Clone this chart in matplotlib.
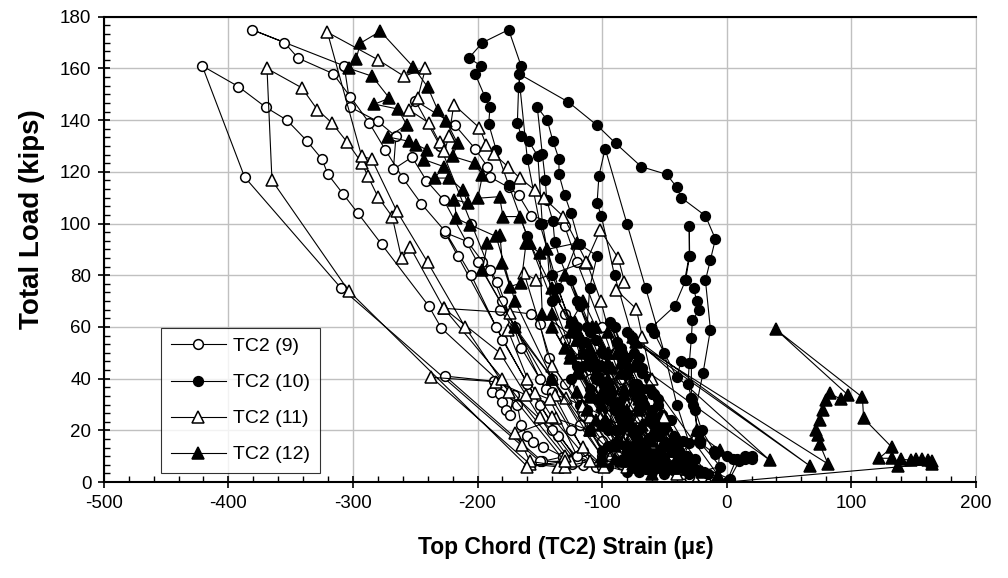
import matplotlib.pyplot as plt
from matplotlib.ticker import MultipleLocator

plt.rcParams['font.family'] = ['Liberation Sans', 'DejaVu Sans']
plt.rcParams['axes.unicode_minus'] = False

# strain (microstrain), total load (kips), in test order
tc2_9 = [
    (-30, 2), (-45, 8), (-60, 15), (-72, 22), (-85, 30), (-95, 38), (-80, 26), (-65, 15), (-50, 6),
    (-65, 8), (-80, 18), (-95, 28), (-108, 38), (-118, 48), (-130, 55), (-110, 40), (-95, 26), (-80, 12), (-70, 5),
    (-85, 7), (-100, 16), (-115, 26), (-130, 38), (-143, 48), (-150, 61), (-157, 65), (-182, 66.6),
    (-140, 40), (-118, 22), (-100, 10),
    (-105, 6), (-125, 20), (-145, 36), (-165, 52), (-184, 77.5), (-190, 82), (-196, 85.3), (-208, 93),
    (-226, 96.5), (-216, 87.6), (-185, 60), (-160, 38), (-135, 18), (-115, 6.6),
    (-124, 7), (-131, 9.8), (-148, 8), (-226, 41), (-187, 39), (-185, 37), (-188, 35), (-182, 34),
    (-180, 31), (-177, 28), (-174, 26), (-171, 33.7), (-168, 30), (-165, 22), (-160, 18),
    (-155.5, 15.6), (-147.5, 13.7), (-131, 9.8), (-123, 9.2),
    (-140, 20), (-229, 59.5), (-239, 68), (-277, 92), (-296, 104), (-308, 111.5), (-320, 119),
    (-325, 125), (-337, 132), (-353, 140), (-370, 145), (-392, 153), (-421, 161), (-387, 118),
    (-309.5, 75), (-150, 8),
    (-120, 8), (-150, 30), (-180, 55), (-205, 80), (-226, 97), (-245, 107.6), (-260, 117.6),
    (-274, 128.5), (-287, 139), (-302, 149), (-316, 158), (-344, 164), (-355, 170), (-381, 175),
    (-307, 161), (-302, 145), (-280, 139.5), (-265.5, 133.7), (-267.5, 121), (-252.6, 125.7),
    (-241, 116.6), (-227, 109), (-200, 85), (-170, 60), (-140, 35), (-115, 12), (-100, 6),
    (-120, 10), (-150, 40), (-180, 70), (-205, 100), (-230, 130), (-250, 147.6), (-218, 138),
    (-202, 129), (-192, 122), (-190, 118), (-175, 114), (-167, 111), (-157, 103), (-130, 99),
    (-120, 85), (-100, 60), (-85, 40), (-70, 20), (-60, 8),
    (-80, 12), (-100, 30), (-115, 50), (-130, 65), (-110, 45), (-90, 25), (-70, 10), (-50, 5),
    (-35, 3), (-20, 2), (-10, 2),
]

tc2_10 = [
    (-20, 4), (-40, 12), (-55, 22), (-68, 32), (-80, 42), (-90, 50), (-75, 35), (-55, 18), (-40, 8),
    (-50, 8), (-70, 20), (-85, 32), (-100, 45), (-110, 58), (-118, 68), (-125, 78), (-105, 55),
    (-85, 35), (-65, 15), (-50, 6),
    (-45, 5), (-60, 12), (-72, 20), (-82, 27), (-92, 34), (-100, 40), (-108, 46), (-95, 35),
    (-82, 25), (-70, 16), (-58, 9), (-48, 5),
    (-25, 5), (-38, 12), (-50, 20), (-60, 28), (-70, 36), (-78, 44), (-85, 52), (-90, 60),
    (-80, 48), (-68, 36), (-56, 24), (-44, 14), (-32, 6),
    (-15, 3), (-25, 9), (-35, 16), (-45, 24), (-55, 32), (-62, 40), (-70, 48), (-76, 56),
    (-68, 44), (-58, 34), (-48, 24), (-38, 15), (-28, 8), (-18, 4),
    (-70, 10), (-90, 28), (-104, 45), (-112, 60), (-110, 75), (-104, 87.5), (-118, 92), (-125, 104),
    (-130, 111), (-134.6, 119), (-134.6, 125), (-139.5, 132), (-144, 140), (-152, 145), (-148, 127),
    (-145.6, 117), (-144.4, 109), (-139.5, 101), (-138, 93), (-134, 86.6), (-120, 70), (-100, 50),
    (-80, 28), (-60, 10),
    (-55, 6), (-68, 14), (-80, 22), (-90, 30), (-98, 38), (-106, 46), (-114, 54), (-120, 60),
    (-108, 48), (-94, 36), (-80, 24), (-66, 13), (-55, 6),
    (-35, 6), (-48, 14), (-58, 22), (-66, 30), (-74, 38), (-82, 46), (-88, 54), (-94, 62),
    (-84, 50), (-72, 38), (-60, 26), (-48, 15), (-38, 7),
    (-22, 4), (-32, 10), (-42, 18), (-52, 26), (-60, 34), (-68, 42), (-74, 50), (-80, 58),
    (-72, 46), (-62, 36), (-52, 26), (-42, 17), (-32, 9),
    (-80, 12), (-105, 40), (-125, 62), (-140, 80), (-148, 100), (-151.5, 126), (-159, 132),
    (-165, 134), (-168, 139), (-167, 153), (-165, 161), (-175, 175), (-196, 170), (-207, 164),
    (-197, 161), (-202, 158), (-194, 149), (-190, 145), (-191, 138.5), (-185, 128.5), (-175, 115),
    (-160, 95), (-140, 70), (-120, 45), (-95, 20), (-75, 8),
    (-62, 8), (-75, 16), (-86, 25), (-96, 33), (-104, 41), (-112, 49), (-120, 57), (-110, 45),
    (-96, 32), (-82, 20), (-70, 11),
    (-70, 4), (-85, 8), (-95, 6), (-80, 4), (-60, 4), (-50, 3), (-100, 12), (-110, 20), (-118, 30),
    (-125, 40), (-112, 28), (-95, 14),
    (-60, 6), (-75, 12), (-88, 20), (-100, 28), (-110, 36), (-118, 44), (-104, 32), (-90, 20),
    (-76, 10), (-65, 5),
    (-90, 15), (-115, 45), (-135, 75), (-150, 100), (-160, 125), (-167, 158), (-127, 147),
    (-104, 138), (-89, 131), (-68.5, 122), (-48, 119), (-40, 114), (-36.4, 110), (-17, 103),
    (-9, 94), (-13, 86), (-17, 78), (-13, 59), (-19, 42), (-25, 28), (-24, 19.5), (-21, 15),
    (-9.6, 11), (5, 9), (15, 10), (20, 9), (10, 8), (2.4, 1.2),
    (-30, 8), (-55, 30), (-75, 55), (-90, 80), (-100.6, 103), (-104, 108), (-102.5, 118.5),
    (-97.5, 129), (-80, 100), (-65, 75), (-50, 50), (-40, 30), (-30, 15),
    (-40, 4), (-52, 10), (-62, 17), (-50, 9), (-30, 3),
    (-5, 6), (-21, 15), (-27, 30), (-28.3, 32.5), (-31, 38), (-30, 46), (-28.3, 55.6), (-27.5, 62.7),
    (-22, 66.6), (-24, 70), (-26.5, 75), (-33.7, 78), (-30, 87.5), (-30, 99), (-29.7, 87.6),
    (-33, 78), (-41.8, 68), (-60.5, 59.7), (-58, 57.5), (-40, 40.5), (-36.4, 47), (-28.3, 46),
    (-28.3, 32.5), (-20, 20), (-10, 12), (0, 10), (15, 9), (20, 10), (8, 9), (0, 0),
]

tc2_11 = [
    (-30, 5), (-50, 15), (-70, 25), (-85, 35), (-95, 42), (-80, 30), (-60, 15), (-40, 5),
    (-40, 3), (-60, 10), (-80, 18), (-100, 26), (-115.4, 29.3), (-128.6, 32.4), (-138, 33.7),
    (-142, 32), (-154, 34.3), (-161, 33.7), (-185, 38.8), (-237, 40.5), (-158, 7), (-135.6, 5.9),
    (-115.4, 13.7), (-98.8, 5.9),
    (-94, 9.2), (-110, 20), (-137, 24.6), (-169.5, 18.8), (-164, 14.3), (-158, 8), (-130, 6),
    (-110, 8), (-140, 25), (-160, 40), (-175.6, 58.8), (-174, 65.5), (-227, 67.2), (-182, 50),
    (-150, 25), (-125, 8),
    (-130, 10), (-180, 40), (-227, 67.2), (-254, 90.8), (-261, 86.6), (-268.5, 102.7), (-280, 110.4),
    (-288, 118.3), (-293, 123.5), (-304.5, 131.4), (-317, 139), (-328.5, 144), (-341, 152.5),
    (-369, 160), (-365, 116.7), (-303.5, 74), (-160, 6),
    (-130, 8), (-175, 35), (-210, 60), (-240, 85), (-265, 105), (-285, 125), (-293, 126),
    (-320.5, 174), (-280, 163.4), (-259, 157), (-241.8, 160), (-248, 148.5), (-255, 144),
    (-238.6, 138.8), (-230.5, 131.4), (-226.5, 127.9), (-223, 133.7), (-219, 146), (-198.4, 137),
    (-193, 130.5), (-187, 127), (-175.6, 122), (-166, 117.6), (-154, 113), (-146.6, 109.8),
    (-131, 102.7), (-112, 84.7), (-101, 70), (-90, 50), (-75, 30), (-60, 10),
    (-80, 6), (-110, 25), (-140, 45), (-162.6, 80.8), (-153, 78.2), (-112.6, 85.3), (-101.4, 97.5),
    (-87, 86.6), (-82, 77.5), (-88.6, 74.3), (-72.5, 67), (-67.7, 56.3), (-60, 40), (-50, 25),
    (-40, 5.3),
]

tc2_12 = [
    (-20, 4), (-40, 12), (-55, 22), (-70, 32), (-85, 42), (-70, 30), (-50, 15), (-30, 6),
    (-40, 6), (-60, 16), (-80, 28), (-95, 40), (-110, 52), (-122, 62), (-100, 45), (-80, 25), (-60, 10),
    (-50, 6), (-62, 12), (-74, 20), (-85, 28), (-95, 35), (-105, 42), (-115, 50), (-125, 58),
    (-112, 46), (-98, 34), (-85, 22), (-72, 12), (-60, 6),
    (-30, 5), (-45, 12), (-58, 20), (-70, 28), (-82, 36), (-92, 44), (-100, 52), (-108, 60),
    (-95, 46), (-82, 34), (-68, 22), (-55, 12), (-42, 6),
    (-60, 3), (-75, 9), (-88, 16), (-100, 22), (-112, 28), (-120, 35), (-105, 24), (-90, 14), (-75, 6),
    (-35, 8), (-50, 16), (-62, 25), (-72, 34), (-80, 42), (-88, 50), (-95, 58), (-85, 46),
    (-75, 36), (-62, 24), (-50, 14), (-38, 8),
    (-60, 8), (-90, 30), (-120, 55), (-148, 65), (-150, 88.6), (-161, 92.5), (-165, 77),
    (-174, 75.6), (-180, 84.7), (-182, 95.6), (-192, 92.5), (-196, 82), (-170, 60), (-140, 40),
    (-110, 20), (-85, 8),
    (-70, 8), (-100, 30), (-125, 50), (-140, 65), (-144, 90), (-120, 92.5), (-130, 80),
    (-138, 72), (-125, 62), (-115, 70), (-105, 60), (-95, 50), (-100, 40), (-85, 30), (-75, 20),
    (-65, 10),
    (-100, 10), (-140, 40), (-170, 70), (-185, 95), (-206, 99.5), (-217, 102), (-218.5, 109.2),
    (-208, 108), (-212, 113), (-222.5, 117.6), (-234.5, 117.6), (-227, 122), (-242.6, 124.7),
    (-240.5, 128.5), (-249, 130.5), (-254.6, 131.8), (-272, 133.5), (-256.8, 138.2), (-264, 144.3),
    (-282.7, 146.2), (-270.7, 148.5), (-284.6, 157), (-303, 160), (-297.5, 163.6), (-294, 169.8),
    (-278, 174.4), (-251.4, 160.5), (-240, 152.8), (-232, 144), (-225, 139.5), (-216, 131),
    (-220, 126), (-202.4, 123.4), (-196, 118.8), (-199.7, 109.8), (-182.3, 110.4), (-179.5, 102.7),
    (-166, 102.7), (-158, 92.4), (-140, 75), (-120, 55), (-100, 35), (-80, 15), (-60, 6),
    (-70, 7), (-85, 15), (-98, 24), (-110, 33), (-120, 42), (-130, 52), (-140, 60), (-126, 48),
    (-110, 35), (-95, 22), (-80, 12), (-65, 7),
    (-90, 9), (-100, 8), (-80, 8), (-75, 7), (-43, 5.4), (-24, 20), (-21, 18), (-5.6, 12.4),
    (-7, 2.7), (-70, 45), (34.5, 8.5), (-75, 56), (67, 6.2), (-73, 54), (81.4, 7), (74.7, 14.7),
    (73.4, 18.2), (72, 20), (74.7, 24), (77, 27.9), (80, 31.7), (82.7, 34.3), (92, 32), (97.4, 33.7),
    (39.4, 59.1), (109, 32.8), (110, 24.6), (132.8, 13.4), (122.4, 9.2), (132.8, 9.2), (137.6, 6.2),
    (140, 8.8), (148, 8.5), (152, 9), (157, 9), (162, 8.5), (165, 8), (165, 7), (0, 0),
]

series = [
    (tc2_9, 'o', 'white', 7, 'TC2 (9)'),
    (tc2_10, 'o', 'black', 7, 'TC2 (10)'),
    (tc2_11, '^', 'white', 8, 'TC2 (11)'),
    (tc2_12, '^', 'black', 8, 'TC2 (12)'),
]

fig, ax = plt.subplots(figsize=(10.08, 5.78), dpi=100)
fig.subplots_adjust(left=0.103, right=0.968, bottom=0.166, top=0.971)

for pts, mk, fc, ms, lab in series:
    xs = [p[0] for p in pts]
    ys = [p[1] for p in pts]
    ax.plot(xs, ys, color='black', lw=0.8, marker=mk, mfc=fc, mec='black',
            ms=ms, mew=1.1, label=lab)

ax.set_xlim(-500, 200)
ax.set_ylim(0, 180)
ax.xaxis.set_major_locator(MultipleLocator(100))
ax.xaxis.set_minor_locator(MultipleLocator(20))
ax.yaxis.set_major_locator(MultipleLocator(20))
ax.yaxis.set_minor_locator(MultipleLocator(10 / 3))
ax.tick_params(which='major', direction='inout', length=8, width=1.2, labelsize=13.5, pad=5)
ax.tick_params(which='minor', direction='in', length=4, width=1)

ax.grid(True, which='major', color='#c0c0c0', lw=1)
ax.set_axisbelow(True)
for s in ['left', 'bottom', 'top']:
    ax.spines[s].set_linewidth(1.5)
ax.spines['right'].set_color('#c0c0c0')

ax.set_xlabel('Top Chord (TC2) Strain (με)', fontsize=16.5, fontweight='bold')
ax.set_ylabel('Total Load (kips)', fontsize=20, fontweight='bold')
ax.xaxis.set_label_coords(0.53, -0.115)
ax.yaxis.set_label_coords(-0.068, 0.565)

leg = ax.legend(loc='lower left', bbox_to_anchor=(0.066, 0.019), borderaxespad=0,
                fontsize=14, labelspacing=0.95, handlelength=2.8, handletextpad=0.4,
                frameon=True, fancybox=False, edgecolor='black', borderpad=0.5)
leg.get_frame().set_linewidth(0.8)

fig.savefig('out.png', dpi=100)
